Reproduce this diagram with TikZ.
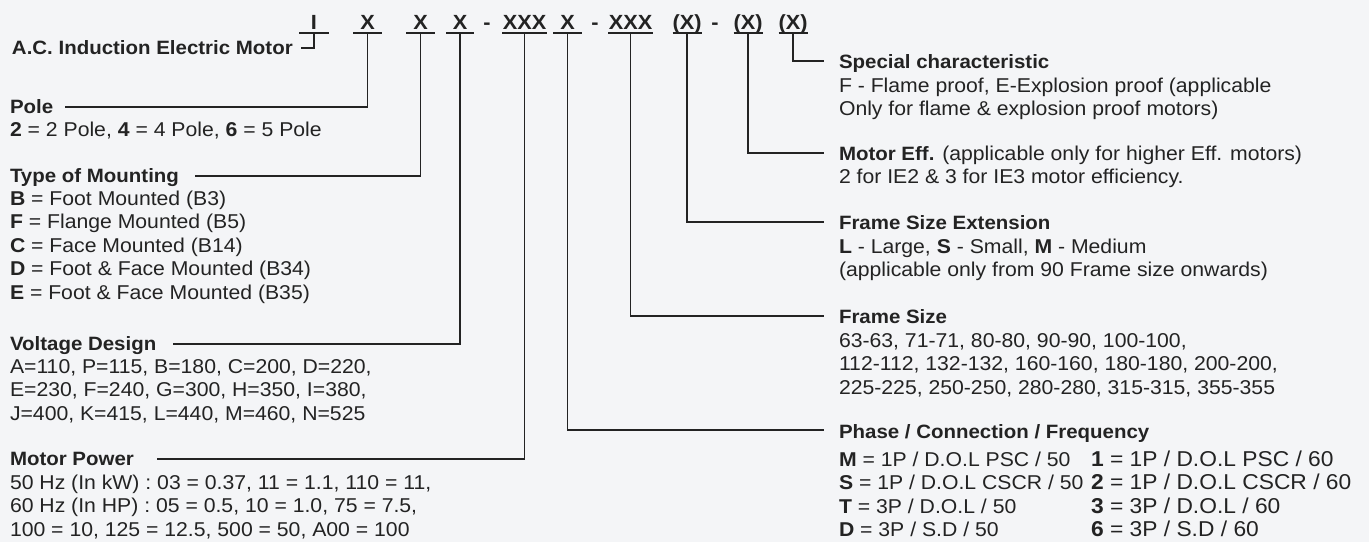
\documentclass[tikz,border=0pt]{standalone}
\usepackage{fontspec}
\setmainfont{Liberation Sans}[FakeStretch=1.06]
\usetikzlibrary{calc}
\definecolor{ink}{HTML}{232323}
\definecolor{bg}{HTML}{F4F5F7}
\newcommand\blk[1]{\vtop{\halign{##\hfil\cr#1\crcr}}}
\tikzset{
  txt/.style={anchor=base west, inner sep=0pt, outer sep=0pt, text=ink, font=\fontsize{20}{23.5}\selectfont},
  ttl/.style={txt, font=\bfseries\fontsize{19.3}{23.5}\selectfont},
  code/.style={anchor=base, inner sep=0pt, outer sep=0pt, text=ink, text depth=4pt, font=\bfseries\fontsize{20.5}{24}\selectfont},
  ln/.style={draw=ink, line width=1.3pt},
}
\begin{document}
\begin{tikzpicture}[x=1pt, y=-1pt]
\fill[bg] (0,0) rectangle (1369,542);
\useasboundingbox (0,0) rectangle (1369,542);
% code
\node[code, minimum width=30pt] (c1) at (314,29) {I};
\node[code, minimum width=29pt] (c2) at (367.5,29) {X};
\node[code, minimum width=29pt] (c3) at (420.5,29) {X};
\node[code, minimum width=28pt] (c4) at (460,29) {X};
\node[code, text depth=0pt] (d1) at (487,29) {-};
\node[code, minimum width=45pt] (c5) at (524.5,29) {XXX};
\node[code, minimum width=29pt] (c6) at (567.5,29) {X};
\node[code, text depth=0pt] (d2) at (595,29) {-};
\node[code, minimum width=45pt] (c7) at (630.5,29) {XXX};
\node[code, minimum width=29pt] (c8) at (687,29) {(X)};
\node[code, text depth=0pt] (d3) at (715,29) {-};
\node[code, minimum width=29pt] (c9) at (748,29) {(X)};
\node[code, minimum width=29pt] (c10) at (793,29) {(X)};
\foreach \n in {c1,c2,c3,c4,c5,c6,c7,c8,c9,c10}
  \draw[ln] (\n.south west) -- (\n.south east);
% left blocks
\node[ttl] (tA) at (12,54) {A.C. Induction Electric Motor};
\node[ttl] (tP) at (10,113) {Pole};
\node[txt] (dP) at (10,136) {\textbf{2} = 2 Pole, \textbf{4} = 4 Pole, \textbf{6} = 5 Pole};
\node[ttl] (tT) at (10,182) {Type of Mounting};
\node[txt] (dT) at (10,205) {\blk{\textbf{B} = Foot Mounted (B3)\cr \textbf{F} = Flange Mounted (B5)\cr \textbf{C} = Face Mounted (B14)\cr \textbf{D} = Foot \& Face Mounted (B34)\cr \textbf{E} = Foot \& Face Mounted (B35)}};
\node[ttl] (tV) at (10,350) {Voltage Design};
\node[txt] (dV) at (10,373) {\blk{A=110, P=115, B=180, C=200, D=220,\cr E=230, F=240, G=300, H=350, I=380,\cr J=400, K=415, L=440, M=460, N=525}};
\node[ttl] (tM) at (10,465) {Motor Power};
\node[txt] (dM) at (10,489) {\blk{50 Hz (In kW) : 03 = 0.37, 11 = 1.1, 110 = 11,\cr 60 Hz (In HP) : 05 = 0.5, 10 = 1.0, 75 = 7.5,\cr 100 = 10, 125 = 12.5, 500 = 50, A00 = 100}};
% right blocks
\node[ttl] (tS) at (839,68) {Special characteristic};
\node[txt] (dS) at (839,92) {\blk{F - Flame proof, E-Explosion proof (applicable\cr Only for flame \& explosion proof motors)}};
\node[txt] (tE) at (839,160) {\textbf{\fontsize{19.3}{23.5}\selectfont Motor Eff.} (applicable only for higher Eff. motors)};
\node[txt] (dE) at (839,183) {2 for IE2 \& 3 for IE3 motor efficiency.};
\node[ttl] (tX) at (839,229) {Frame Size Extension};
\node[txt] (dX) at (839,253) {\blk{\textbf{L} - Large, \textbf{S} - Small, \textbf{M} - Medium\cr (applicable only from 90 Frame size onwards)}};
\node[ttl] (tF) at (839,323) {Frame Size};
\node[txt] (dF) at (839,347) {\blk{63-63, 71-71, 80-80, 90-90, 100-100,\cr 112-112, 132-132, 160-160, 180-180, 200-200,\cr 225-225, 250-250, 280-280, 315-315, 355-355}};
\node[ttl] (tC) at (839,438) {Phase / Connection / Frequency};
\node[txt] (dC1) at (839,466) {\blk{\textbf{M} = 1P / D.O.L PSC / 50\cr \textbf{S} = 1P / D.O.L CSCR / 50\cr \textbf{T} = 3P / D.O.L / 50\cr \textbf{D} = 3P / S.D / 50}};
\node[txt, font=\fontsize{21.5}{23.5}\selectfont] (dC2) at (1091,466) {\blk{\textbf{1} = 1P / D.O.L PSC / 60\cr \textbf{2} = 1P / D.O.L CSCR / 60\cr \textbf{3} = 3P / D.O.L / 60\cr \textbf{6} = 3P / S.D / 60}};
% connector ends
\coordinate (hA) at (301,48);
\coordinate (hP) at (65,107);
\coordinate (hT) at (195,176);
\coordinate (hV) at (173,344);
\coordinate (hM) at (157,459);
\coordinate (hS) at (824,61);
\coordinate (hE) at (824,153);
\coordinate (hX) at (824,222);
\coordinate (hF) at (824,316);
\coordinate (hC) at (824,430);
\draw[ln] (c1.south) |- (hA);
\draw[ln] (c2.south) |- (hP);
\draw[ln] (c3.south) |- (hT);
\draw[ln] (c4.south) |- (hV);
\draw[ln] (c5.south) |- (hM);
\draw[ln] (c6.south) |- (hC);
\draw[ln] (c7.south) |- (hF);
\draw[ln] (c8.south) |- (hX);
\draw[ln] (c9.south) |- (hE);
\draw[ln] (c10.south) |- (hS);
\end{tikzpicture}
\end{document}
